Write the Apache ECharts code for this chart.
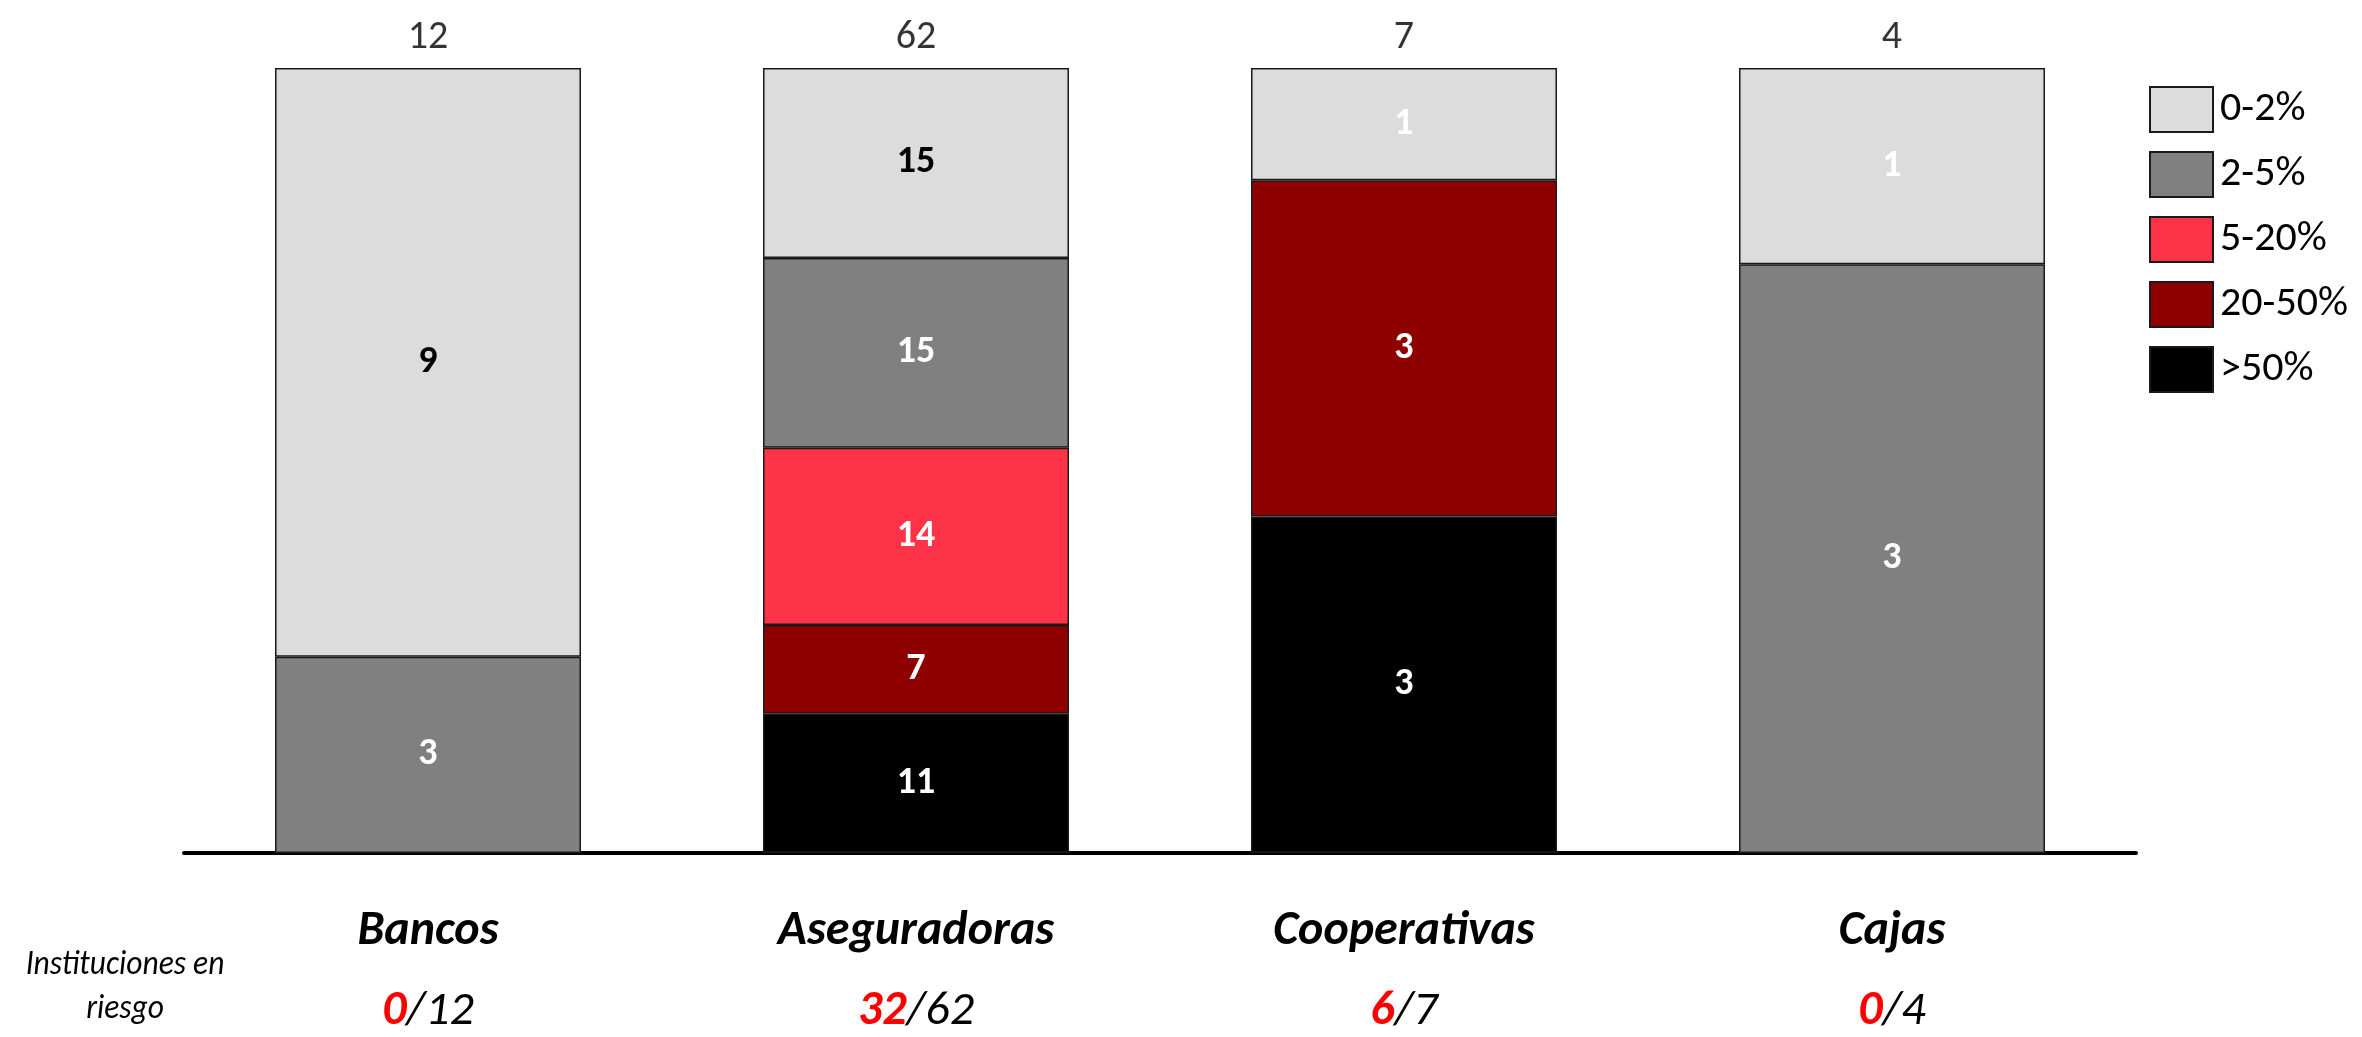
<!DOCTYPE html>
<html>
<head>
<meta charset="utf-8">
<script src="https://cdn.jsdelivr.net/npm/echarts@6/dist/echarts.min.js"></script>
<style>
html,body{margin:0;padding:0;background:#fff;}
#chart{width:2362px;height:1037px;}
</style>
</head>
<body>
<div id="chart"></div>
<script>
// ---- data ----
var categories = ['Bancos', 'Aseguradoras', 'Cooperativas', 'Cajas'];
var seriesNames = ['0-2%', '2-5%', '5-20%', '20-50%', '>50%'];
var v0_2   = [9, 15, 1, 1];
var v2_5   = [3, 15, 0, 3];
var v5_20  = [0, 14, 0, 0];
var v20_50 = [0, 7, 3, 0];
var v50    = [0, 11, 3, 0];
var atRisk = [0, 32, 6, 0];

// ---- styles ----
var FONT = 'Carlito, Calibri, Lato, sans-serif';
var colors = {'0-2%': '#DCDCDC', '2-5%': '#808080', '5-20%': '#FF3347', '20-50%': '#8F0000', '>50%': '#000000'};
var topLabelColors = ['#000', '#000', '#fff', '#fff'];

var valuesByName = {'0-2%': v0_2, '2-5%': v2_5, '5-20%': v5_20, '20-50%': v20_50, '>50%': v50};
var totals = categories.map(function (c, i) {
  return seriesNames.reduce(function (s, n) { return s + valuesByName[n][i]; }, 0);
});

// stacking order: bottom first
var stackOrder = ['>50%', '20-50%', '5-20%', '2-5%', '0-2%'];
var barSeries = stackOrder.map(function (name) {
  var vals = valuesByName[name];
  return {
    name: name,
    type: 'bar',
    stack: 'total',
    barCategoryGap: '37.3%',
    itemStyle: {color: colors[name], borderColor: '#1a1a1a', borderWidth: 1.5},
    label: {
      show: true,
      position: 'inside',
      fontFamily: FONT,
      fontWeight: 'bold',
      fontSize: 38,
      color: '#fff',
      formatter: function (p) { return vals[p.dataIndex]; }
    },
    data: vals.map(function (v, i) {
      if (!v) return '-';
      var item = {value: v / totals[i]};
      if (name === '0-2%') item.label = {color: topLabelColors[i]};
      return item;
    })
  };
});

var totalSeries = {
  name: 'total',
  type: 'scatter',
  symbolSize: 0,
  silent: true,
  label: {
    show: true,
    position: 'top',
    distance: 10,
    fontFamily: FONT,
    fontSize: 40,
    color: '#000',
    formatter: function (p) { return totals[p.dataIndex]; }
  },
  data: totals.map(function () { return 1; })
};

var chart = echarts.init(document.getElementById('chart'));
chart.setOption({
  animation: false,
  backgroundColor: '#fff',
  grid: {left: 184, right: 226, top: 68, bottom: 184},
  legend: {
    data: seriesNames,
    orient: 'vertical',
    left: 2144,
    top: 81,
    itemWidth: 63,
    itemHeight: 45,
    itemGap: 18,
    icon: 'rect',
    itemStyle: {borderColor: '#1a1a1a', borderWidth: 2},
    textStyle: {fontFamily: FONT, fontSize: 42, color: '#000', padding: [0, 0, 0, 2]}
  },
  xAxis: {
    type: 'category',
    data: categories,
    axisLine: {lineStyle: {color: '#000', width: 4}},
    axisTick: {show: false},
    axisLabel: {
      margin: 39,
      formatter: function (value, idx) {
        return '{c|' + value + '}\n{r|' + atRisk[idx] + '}{k|/' + totals[idx] + '}';
      },
      rich: {
        c: {fontFamily: FONT, fontSize: 48, fontWeight: 'bold', fontStyle: 'italic', color: '#000', lineHeight: 80},
        r: {fontFamily: FONT, fontSize: 48, fontWeight: 'bold', fontStyle: 'italic', color: '#FF0000', lineHeight: 80},
        k: {fontFamily: FONT, fontSize: 48, fontStyle: 'italic', color: '#000', lineHeight: 80}
      }
    }
  },
  yAxis: {type: 'value', min: 0, max: 1, show: false, splitLine: {show: false}},
  graphic: [{
    type: 'text',
    x: 125,
    y: 943,
    scaleX: 0.9,
    style: {
      text: 'Instituciones en\nriesgo',
      fontFamily: FONT,
      fontSize: 35,
      fontStyle: 'italic',
      fill: '#000',
      align: 'center',
      verticalAlign: 'top',
      lineHeight: 44
    }
  }],
  series: barSeries.concat([totalSeries])
});
</script>
</body>
</html>
